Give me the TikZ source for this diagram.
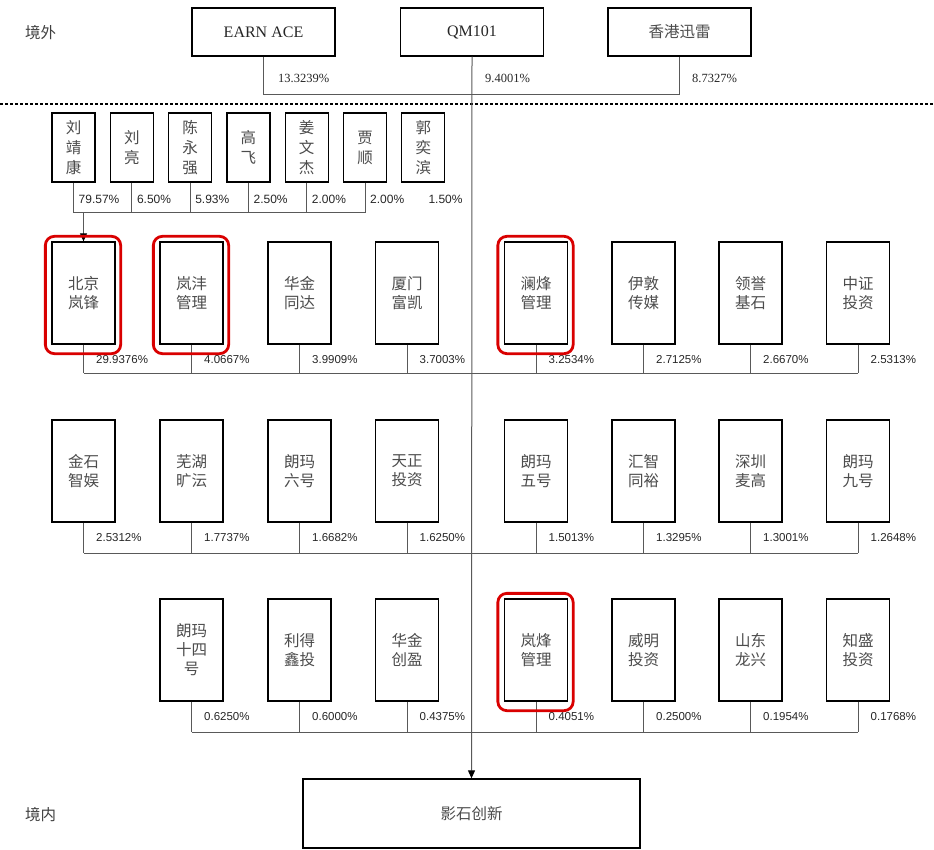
\documentclass[tikz,border=0pt]{standalone}
\usepackage{fontspec}
\setmainfont{Liberation Serif}
\newfontfamily\cjk{Noto Sans CJK SC}
\newfontfamily\arialf{Liberation Sans}
\usetikzlibrary{arrows.meta}
\begin{document}
\begin{tikzpicture}[x=1pt,y=-1pt,
  box/.style={draw=black, line width=1.3pt, fill=white, inner sep=0pt, align=center, text=black!70},
  entbox/.style={box, minimum width=63pt, minimum height=102pt, font=\cjk\fontsize{15.5}{19}\selectfont},
  perbox/.style={box, minimum width=43pt, minimum height=69pt, font=\cjk\fontsize{15.5}{20}\selectfont},
  topbox/.style={box, minimum width=143pt, minimum height=48pt},
  conn/.style={draw=black!65, line width=1pt},
  pct/.style={anchor=west, inner sep=0pt, text=black!85, font=\arialf\fontsize{11.5}{12}\selectfont},
  ppct/.style={pct, font=\arialf\fontsize{12}{12}\selectfont},
  tpct/.style={anchor=west, inner sep=0pt, text=black!85, font=\fontsize{12.5}{13}\selectfont},
  redbox/.style={draw=red!85!black, line width=2.8pt, rounded corners=9pt},
  side/.style={anchor=west, inner sep=0pt, text=black!75, font=\cjk\fontsize{15.5}{18}\selectfont},
  sep/.style={draw=black, line width=1.2pt, dash pattern=on 3pt off 2pt},
  arr/.style={-{Triangle[length=8pt,width=7pt,color=black]}}
]
\useasboundingbox (0,0) rectangle (934,850);

% side labels
\node[side] (jw) at (25,33) {境外};
\node[side] (jn) at (25,815) {境内};

% top shareholders
\node[topbox, font=\fontsize{16}{18}\selectfont, text=black!85] (ea) at (263.5,32) {EARN ACE};
\node[topbox, font=\fontsize{16}{18}\selectfont, text=black!85] (qm) at (472,32) {QM101};
\node[topbox, font=\cjk\fontsize{15.5}{18}\selectfont] (xl) at (679.5,32) {香港迅雷};
\draw[conn] (ea.south) -- ++(0,38) -| (xl.south);
\node[tpct] (tp1) at (278,78) {13.3239\%};
\node[tpct] (tp2) at (485,78) {9.4001\%};
\node[tpct] (tp3) at (692,78) {8.7327\%};

% separator
\draw[sep] (0,104) -- (934,104);

% target company
\node[box, minimum width=337pt, minimum height=69pt, font=\cjk\fontsize{15.5}{18}\selectfont] (ys) at (471.5,813.5) {影石创新};

% persons
\foreach \n/\i/\t/\p in {a/0/{刘\\靖\\康}/79.57\%, b/1/{刘\\亮}/6.50\%, c/2/{陈\\永\\强}/5.93\%, d/3/{高\\飞}/2.50\%, e/4/{姜\\文\\杰}/2.00\%, f/5/{贾\\顺}/2.00\%, g/6/{郭\\奕\\滨}/1.50\%}{
  \node[perbox] (p\n) at (73.5+58.3*\i,147.5) {\t};
  \node[ppct] (pp\n) at (78.5+58.3*\i,199) {\p};
}
\foreach \n in {a,b,c,d,e,f}{
  \coordinate (pj\n) at (p\n.south |- 0,213);
  \draw[conn] (p\n.south) -- (pj\n);
}
\draw[conn] (pja) -- (pjf);

% row 1
\foreach \n/\x/\t/\p in {a/83.5/{北京\\岚锋}/29.9376\%, b/191.5/{岚沣\\管理}/4.0667\%, c/299.5/{华金\\同达}/3.9909\%, d/407/{厦门\\富凯}/3.7003\%, e/536/{澜烽\\管理}/3.2534\%, f/643.5/{伊敦\\传媒}/2.7125\%, g/750.5/{领誉\\基石}/2.6670\%, h/858/{中证\\投资}/2.5313\%}{
  \node[entbox] (ra\n) at (\x,293) {\t};
  \coordinate (ja\n) at (\x,373);
  \draw[conn] (ra\n.south) -- (ja\n);
  \node[pct] (qa\n) at (\x+12.5,360) {\p};
}
\draw[conn] (jaa) -- (jah);
\coordinate (parr) at (raa.north |- 0,213);
\draw[conn, arr] (parr) -- (raa.north);

% row 2
\foreach \n/\x/\t/\p in {a/83.5/{金石\\智娱}/2.5312\%, b/191.5/{芜湖\\旷沄}/1.7737\%, c/299.5/{朗玛\\六号}/1.6682\%, d/407/{天正\\投资}/1.6250\%, e/536/{朗玛\\五号}/1.5013\%, f/643.5/{汇智\\同裕}/1.3295\%, g/750.5/{深圳\\麦高}/1.3001\%, h/858/{朗玛\\九号}/1.2648\%}{
  \node[entbox] (rb\n) at (\x,471) {\t};
  \coordinate (jb\n) at (\x,553);
  \draw[conn] (rb\n.south) -- (jb\n);
  \node[pct] (qb\n) at (\x+12.5,538) {\p};
}
\draw[conn] (jba) -- (jbh);

% row 3
\foreach \n/\x/\t/\p in {b/191.5/{朗玛\\十四\\号}/0.6250\%, c/299.5/{利得\\鑫投}/0.6000\%, d/407/{华金\\创盈}/0.4375\%, e/536/{岚烽\\管理}/0.4051\%, f/643.5/{威明\\投资}/0.2500\%, g/750.5/{山东\\龙兴}/0.1954\%, h/858/{知盛\\投资}/0.1768\%}{
  \node[entbox] (rc\n) at (\x,650) {\t};
  \coordinate (jc\n) at (\x,732);
  \draw[conn] (rc\n.south) -- (jc\n);
  \node[pct] (qc\n) at (\x+12.5,717) {\p};
}
\draw[conn] (jcb) -- (jch);

% trunk
\draw[conn, arr] (qm.south) -- (ys.north);

% highlight frames
\foreach \b in {raa,rab,rae,rce}{
  \draw[redbox] ([shift={(-6,-5)}]\b.north west) rectangle ([shift={(5,9)}]\b.south east);
}
\end{tikzpicture}
\end{document}
